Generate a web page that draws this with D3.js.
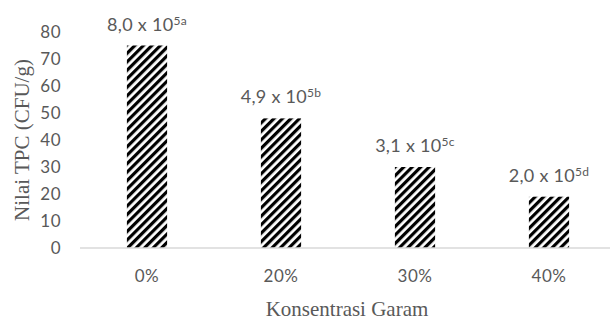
<!DOCTYPE html>
<html>
<head>
<meta charset="utf-8">
<script src="https://cdn.jsdelivr.net/npm/d3@7"></script>
<style>
  body { margin: 0; background: #fff; }
  .sans { font-family: Lato, "Open Sans", sans-serif; fill: #595959; }
  .serif { font-family: "Liberation Serif", "DejaVu Serif", serif; fill: #595959; }
</style>
</head>
<body>
<div id="chart"></div>
<script>
const categories = ['0%', '20%', '30%', '40%'];
const tpcValues  = [75, 48, 30, 19];
const mantissas  = ['8,0', '4,9', '3,1', '2,0'];
const sigLetters = ['a', 'b', 'c', 'd'];
const yTicks     = [0, 10, 20, 30, 40, 50, 60, 70, 80];

const W = 610, H = 320;
const margin = { top: 32, right: -6, bottom: 72, left: 80 };

const svg = d3.select('#chart').append('svg')
  .attr('width', W).attr('height', H);

// motif hachuré (diagonales "/")
svg.append('defs').append('pattern')
  .attr('id', 'hatch')
  .attr('patternUnits', 'userSpaceOnUse')
  .attr('width', 6).attr('height', 6)
  .attr('patternTransform', 'rotate(45)')
  .append('rect')
  .attr('x', 0).attr('y', 0)
  .attr('width', 3.2).attr('height', 6)
  .attr('fill', '#000');

const x = d3.scaleBand()
  .domain(categories)
  .range([margin.left, W - margin.right])
  .paddingInner(0.7)
  .paddingOuter(0.35);

const y = d3.scaleLinear()
  .domain([0, 80])
  .range([H - margin.bottom, margin.top]);

// axe Y (labels seulement)
const yAxis = svg.append('g')
  .attr('transform', `translate(${margin.left - 19},0)`)
  .call(d3.axisLeft(y).tickValues(yTicks).tickSize(0).tickPadding(0));
yAxis.select('.domain').remove();
yAxis.selectAll('text').attr('class', 'sans')
  .style('font-size', '17px').style('letter-spacing', '0.5px').attr('dy', '0.35em');

// barres
svg.selectAll('.bar')
  .data(tpcValues)
  .join('rect')
  .attr('class', 'bar')
  .attr('x', (d, i) => x(categories[i]))
  .attr('y', d => y(d))
  .attr('width', x.bandwidth())
  .attr('height', d => y(0) - y(d))
  .attr('fill', 'url(#hatch)');

// ligne de base
svg.append('line')
  .attr('x1', margin.left).attr('x2', W)
  .attr('y1', y(0)).attr('y2', y(0))
  .attr('stroke', '#d9d9d9').attr('stroke-width', 1.5);

// axe X (labels)
const xAxis = svg.append('g')
  .attr('transform', `translate(0,${y(0)})`)
  .call(d3.axisBottom(x).tickSize(0).tickPadding(22));
xAxis.select('.domain').remove();
xAxis.selectAll('text').attr('class', 'sans')
  .style('font-size', '17px').style('letter-spacing', '0.5px');

// étiquettes au-dessus des barres
const lbl = svg.selectAll('.val')
  .data(tpcValues)
  .join('text')
  .attr('class', 'val sans')
  .attr('text-anchor', 'middle')
  .attr('x', (d, i) => x(categories[i]) + x.bandwidth() / 2)
  .attr('y', d => y(d) - 15)
  .style('font-size', '18px')
  .style('letter-spacing', '0.3px');
lbl.append('tspan').text((d, i) => mantissas[i] + ' x 10');
lbl.append('tspan')
  .attr('dy', '-0.5em')
  .style('font-size', '12px')
  .text((d, i) => '5' + sigLetters[i]);

// titres des axes
svg.append('text')
  .attr('class', 'serif')
  .attr('text-anchor', 'middle')
  .attr('x', 347)
  .attr('y', 316)
  .style('font-size', '21px')
  .text('Konsentrasi Garam');

svg.append('text')
  .attr('class', 'serif')
  .attr('text-anchor', 'middle')
  .attr('transform', `translate(29,${(y(0) + y(80)) / 2}) rotate(-90)`)
  .style('font-size', '21px')
  .text('Nilai TPC (CFU/g)');
</script>
</body>
</html>
